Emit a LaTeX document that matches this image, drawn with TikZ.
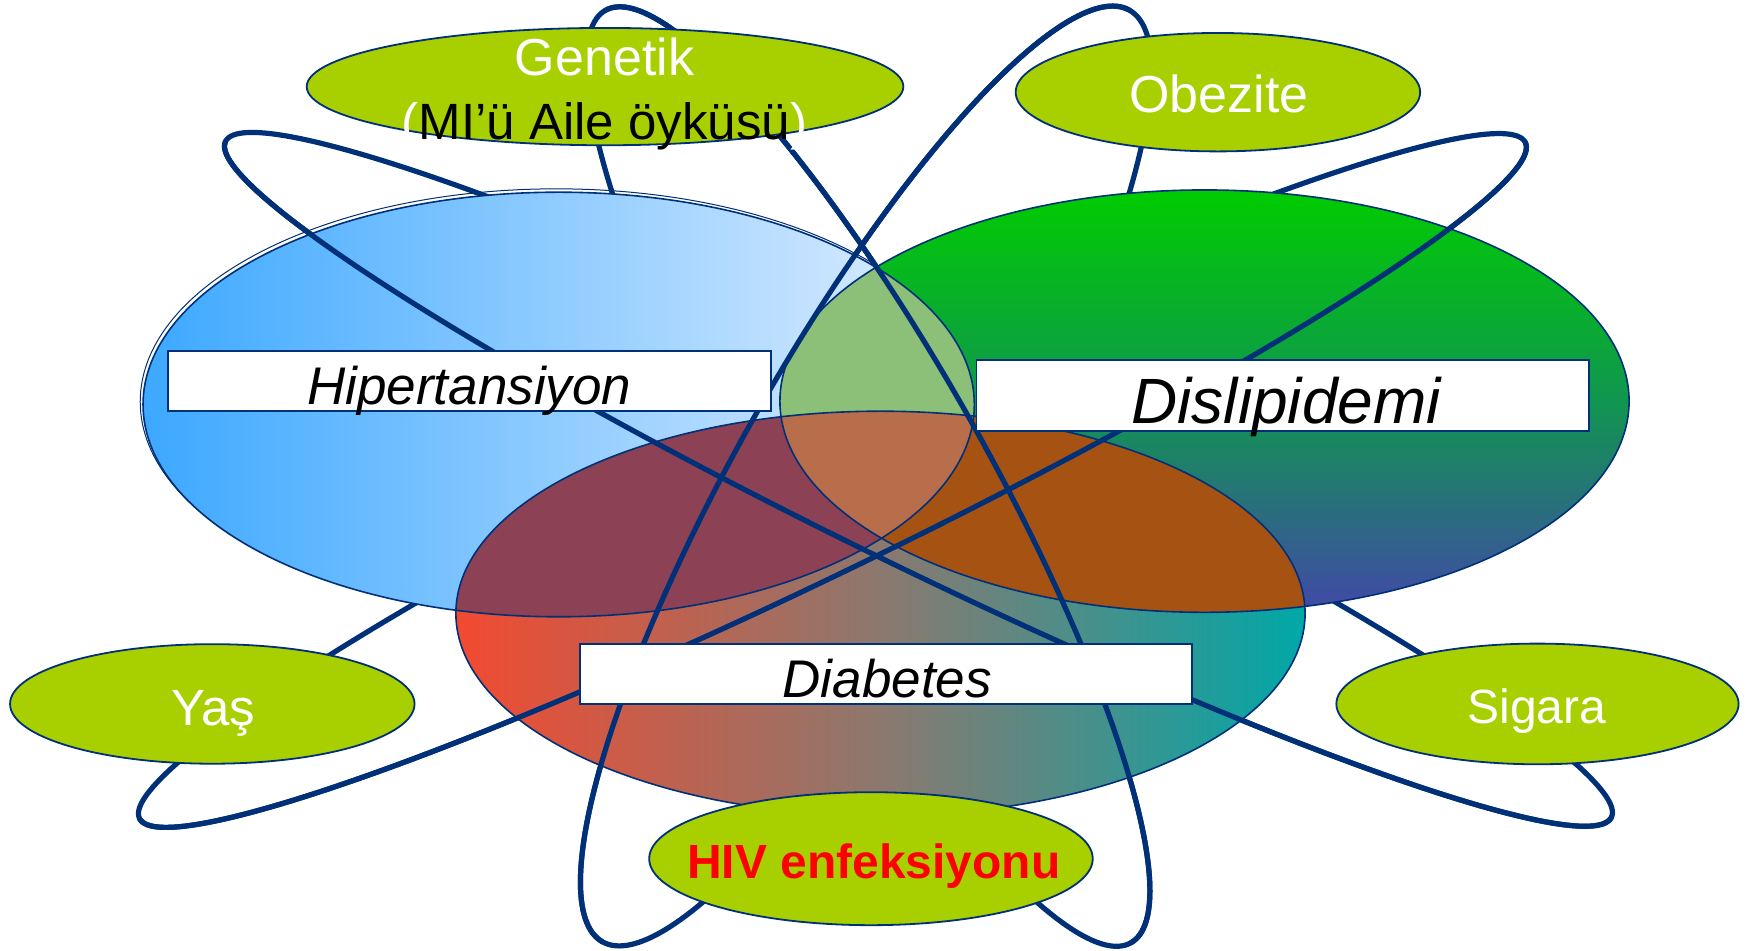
\documentclass[tikz,border=0pt]{standalone}
\usepackage{fontspec}
\setmainfont{Liberation Sans}
\definecolor{navy}{RGB}{0,48,120}
\definecolor{lime}{RGB}{168,208,0}
\definecolor{bluL}{RGB}{60,168,255}
\definecolor{bluR}{RGB}{228,240,255}
\definecolor{grT}{RGB}{0,204,0}
\definecolor{grM}{RGB}{16,150,80}
\definecolor{grB}{RGB}{66,72,168}
\definecolor{diL}{RGB}{242,74,48}
\definecolor{diM}{RGB}{140,120,110}
\definecolor{diR}{RGB}{0,168,168}
\definecolor{ovBD}{RGB}{140,65,85}
\definecolor{ovGD}{RGB}{165,82,19}
\definecolor{ovBG}{RGB}{140,192,120}
\definecolor{ovAll}{RGB}{185,110,75}
\definecolor{hivred}{RGB}{255,0,0}
\tikzset{
  loopline/.style={draw=navy, line width=2.6pt, line join=round, line cap=round},
  mainedge/.style={draw=navy, line width=0.8pt},
  smallell/.style={fill=lime, draw=navy, line width=0.9pt},
  labelbox/.style={fill=white, draw=navy, line width=0.9pt, inner sep=0pt},
  lbl/.style={inner sep=0pt, anchor=base},
}
\begin{document}
\begin{tikzpicture}[x=0.5587pt, y=-0.5587pt]
\useasboundingbox (0,0) rectangle (1568,851);
\fill[white] (0,0) rectangle (1568,851);

% ---- orbit loops (full, back layer)
\draw[loopline] plot[domain=0:360, samples=241, variable=\t]
  ({822 + 690*cos(\t)*cos(26) - 78*sin(\t)*sin(26)}, {429 + 690*cos(\t)*sin(26) + 78*sin(\t)*cos(26)});
\draw[loopline] plot[domain=0:360, samples=241, variable=\t]
  ({745 + 690*cos(\t)*cos(-26) - 78*sin(\t)*sin(-26)}, {430 + 690*cos(\t)*sin(-26) + 78*sin(\t)*cos(-26)});
\draw[loopline] plot[domain=0:360, samples=241, variable=\t]
  ({777 + 479*cos(\t)*cos(60.6) - 104.5*sin(\t)*sin(60.6)}, {426.5 + 479*cos(\t)*sin(60.6) + 104.5*sin(\t)*cos(60.6)});
\draw[loopline] plot[domain=0:360, samples=241, variable=\t]
  ({775 + 479*cos(\t)*cos(-60.5) - 113*sin(\t)*sin(-60.5)}, {426 + 479*cos(\t)*sin(-60.5) + 113*sin(\t)*cos(-60.5)});

% ---- main ellipses
\draw[navy, line width=0.5pt] (498,359.5) ellipse [x radius=372.5, y radius=190.5];
\shade[left color=bluL, right color=bluR] (500,362) ellipse [x radius=372, y radius=190];
\shade[top color=grT, bottom color=grB, middle color=grM] (1078,359) ellipse [x radius=380, y radius=189];
\shade[left color=diL, right color=diR, middle color=diM] (788,549) ellipse [x radius=380, y radius=181];

\begin{scope}
  \clip (500,362) ellipse [x radius=372, y radius=190];
  \fill[ovBD] (788,549) ellipse [x radius=380, y radius=181];
  \fill[ovBG] (1078,359) ellipse [x radius=380, y radius=189];
\end{scope}
\begin{scope}
  \clip (1078,359) ellipse [x radius=380, y radius=189];
  \fill[ovGD] (788,549) ellipse [x radius=380, y radius=181];
\end{scope}
\begin{scope}
  \clip (500,362) ellipse [x radius=372, y radius=190];
  \clip (1078,359) ellipse [x radius=380, y radius=189];
  \fill[ovAll] (788,549) ellipse [x radius=380, y radius=181];
\end{scope}

\draw[mainedge] (500,362) ellipse [x radius=372, y radius=190];
\draw[mainedge] (1078,359) ellipse [x radius=380, y radius=189];
\draw[mainedge] (788,549) ellipse [x radius=380, y radius=181];

% ---- front halves of loops
\draw[loopline] plot[domain=0:180, samples=121, variable=\t]
  ({822 + 690*cos(\t)*cos(26) - 78*sin(\t)*sin(26)}, {429 + 690*cos(\t)*sin(26) + 78*sin(\t)*cos(26)});
\draw[loopline] plot[domain=0:180, samples=121, variable=\t]
  ({745 + 690*cos(\t)*cos(-26) - 78*sin(\t)*sin(-26)}, {430 + 690*cos(\t)*sin(-26) + 78*sin(\t)*cos(-26)});
\draw[loopline] plot[domain=180:360, samples=121, variable=\t]
  ({777 + 479*cos(\t)*cos(60.6) - 104.5*sin(\t)*sin(60.6)}, {426.5 + 479*cos(\t)*sin(60.6) + 104.5*sin(\t)*cos(60.6)});
\draw[loopline] plot[domain=180:360, samples=121, variable=\t]
  ({775 + 479*cos(\t)*cos(-60.5) - 113*sin(\t)*sin(-60.5)}, {426 + 479*cos(\t)*sin(-60.5) + 113*sin(\t)*cos(-60.5)});

% ---- label boxes
\node[labelbox, minimum width=301.7pt, minimum height=30.17pt] (hbox) at (420,341) {};
\node[labelbox, minimum width=306.2pt, minimum height=35.76pt] (dbox) at (1148,354) {};
\node[labelbox, minimum width=306.2pt, minimum height=30.17pt] (dibox) at (793,603) {};

% ---- small ellipses
\path[smallell] (541.5,77.5) ellipse [x radius=267, y radius=52.5];
\path[smallell] (1090,82.5) ellipse [x radius=181, y radius=53];
\path[smallell] (190,630) ellipse [x radius=181, y radius=53.5];
\path[smallell] (1376,630) ellipse [x radius=180, y radius=54];
\path[smallell] (779.5,768.5) ellipse [x radius=198.5, y radius=59.5];

% ---- texts
\node[lbl, text=white, font=\fontsize{26}{30}\selectfont] (gen) at (541,68) {Genetik};
\node[lbl, font=\fontsize{25.5}{30}\selectfont] (mi) at (541,125) {\textcolor{white}{(}MI’ü Aile öyküsü\textcolor{white}{)}};
\node[lbl, text=white, font=\fontsize{26}{30}\selectfont] (obz) at (1091,101) {Obezite};
\node[lbl, text=white, font=\fontsize{25.5}{30}\selectfont] (yas) at (191,649) {Yaş};
\node[lbl, text=white, font=\fontsize{24}{28}\selectfont] (sig) at (1375.5,647.5) {Sigara};
\node[lbl, text=hivred, font=\fontsize{24}{28}\selectfont\bfseries] (hiv) at (782,786) {HIV enfeksiyonu};
\node[lbl, font=\fontsize{26.5}{30}\selectfont\itshape] (hip) at (420,362) {Hipertansiyon};
\node[lbl, font=\fontsize{32}{36}\selectfont\itshape] (dis) at (1151,379) {Dislipidemi};
\node[lbl, font=\fontsize{26.5}{30}\selectfont\itshape] (dia) at (794,624) {Diabetes};
\end{tikzpicture}
\end{document}
